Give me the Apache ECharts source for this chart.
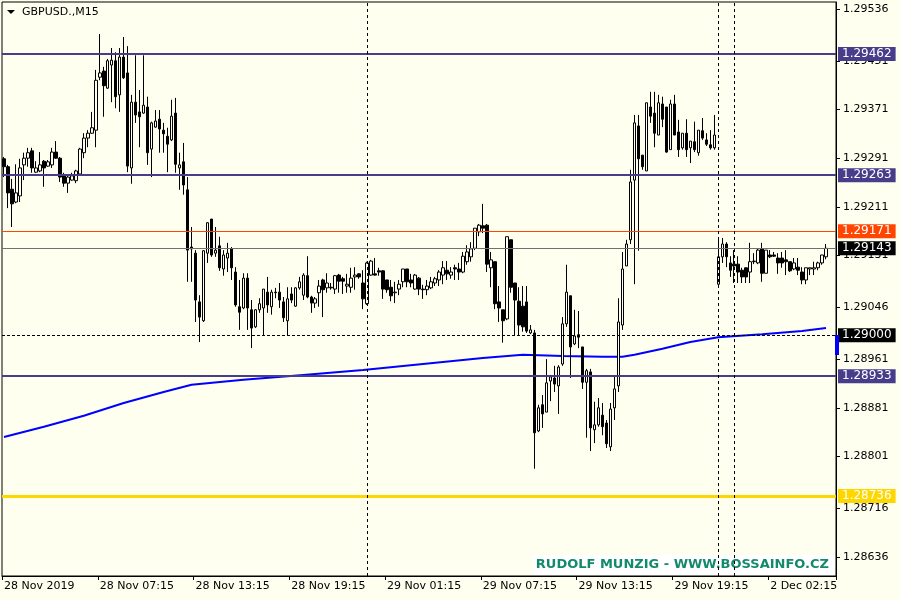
<!DOCTYPE html>
<html><head><meta charset="utf-8">
<script src="https://cdn.jsdelivr.net/npm/echarts@6/dist/echarts.min.js"></script>
<style>html,body{margin:0;padding:0;background:#FFFFF0;}#c{width:900px;height:600px;}</style>
</head><body><div id="c"></div>
<script>
const symbolTitle = 'GBPUSD.,M15';
const watermark = 'RUDOLF MUNZIG - WWW.BOSSAINFO.CZ';
const tickLabels = ['28 Nov 2019','28 Nov 07:15','28 Nov 13:15','28 Nov 19:15','29 Nov 01:15','29 Nov 07:15','29 Nov 13:15','29 Nov 19:15','2 Dec 02:15'];
const tickStep = 24;
const priceTicks = [1.29536,1.29451,1.29371,1.29291,1.29211,1.29131,1.29046,1.28961,1.28881,1.28801,1.28716,1.28636];
const priceMin = 1.286048, priceMax = 1.295475;
const barCount = 209;
// [open, close, low, high]
const ohlc = [
[1.29290,1.29277,1.29260,1.29293],[1.29277,1.29234,1.29209,1.29280],[1.29240,1.29216,1.29178,1.29257],[1.29219,1.29234,1.29217,1.29281],
[1.29229,1.29275,1.29219,1.29290],[1.29280,1.29291,1.29255,1.29300],[1.29291,1.29300,1.29277,1.29308],[1.29303,1.29275,1.29267,1.29308],
[1.29268,1.29275,1.29267,1.29286],[1.29270,1.29280,1.29268,1.29301],[1.29286,1.29275,1.29244,1.29288],[1.29278,1.29285,1.29277,1.29288],
[1.29280,1.29301,1.29275,1.29308],[1.29301,1.29291,1.29290,1.29319],[1.29291,1.29260,1.29252,1.29293],[1.29262,1.29250,1.29244,1.29267],
[1.29250,1.29260,1.29234,1.29265],[1.29255,1.29262,1.29254,1.29267],[1.29254,1.29270,1.29250,1.29272],[1.29265,1.29306,1.29263,1.29308],
[1.29300,1.29324,1.29291,1.29332],[1.29324,1.29332,1.29309,1.29337],[1.29332,1.29341,1.29331,1.29367],[1.29337,1.29419,1.29309,1.29436],
[1.29424,1.29431,1.29419,1.29495],[1.29434,1.29410,1.29359,1.29441],[1.29406,1.29451,1.29405,1.29454],[1.29444,1.29452,1.29383,1.29472],
[1.29451,1.29392,1.29373,1.29465],[1.29395,1.29457,1.29367,1.29472],[1.29457,1.29423,1.29421,1.29490],[1.29431,1.29278,1.29268,1.29475],
[1.29275,1.29383,1.29249,1.29395],[1.29383,1.29362,1.29349,1.29460],[1.29367,1.29359,1.29309,1.29403],[1.29365,1.29378,1.29364,1.29460],
[1.29375,1.29300,1.29280,1.29392],[1.29306,1.29349,1.29260,1.29351],[1.29342,1.29352,1.29341,1.29370],[1.29355,1.29339,1.29300,1.29370],
[1.29337,1.29331,1.29300,1.29349],[1.29327,1.29314,1.29268,1.29341],[1.29321,1.29360,1.29319,1.29387],[1.29365,1.29281,1.29267,1.29390],
[1.29275,1.29280,1.29239,1.29300],[1.29285,1.29247,1.29231,1.29316],[1.29239,1.29140,1.29088,1.29260],[1.29145,1.29142,1.29088,1.29178],
[1.29135,1.29058,1.29022,1.29140],[1.29055,1.29030,1.28989,1.29066],[1.29024,1.29139,1.29022,1.29140],[1.29135,1.29185,1.29119,1.29186],
[1.29191,1.29132,1.29129,1.29191],[1.29135,1.29140,1.29129,1.29178],[1.29147,1.29111,1.29106,1.29162],[1.29109,1.29132,1.29098,1.29140],
[1.29127,1.29135,1.29104,1.29152],[1.29142,1.29111,1.29091,1.29145],[1.29104,1.29050,1.29047,1.29112],[1.29047,1.29038,1.29009,1.29091],
[1.29045,1.29094,1.29043,1.29102],[1.29094,1.29045,1.29009,1.29102],[1.29042,1.29012,1.28979,1.29058],[1.29014,1.29042,1.29012,1.29043],
[1.29042,1.29052,1.29037,1.29061],[1.29045,1.29076,1.28999,1.29076],[1.29071,1.29050,1.29037,1.29096],[1.29047,1.29071,1.29034,1.29075],
[1.29071,1.29070,1.29061,1.29078],[1.29071,1.29058,1.29045,1.29086],[1.29055,1.29029,1.29022,1.29063],[1.29024,1.29060,1.28999,1.29079],
[1.29068,1.29058,1.29053,1.29079],[1.29048,1.29078,1.29047,1.29079],[1.29078,1.29088,1.29075,1.29096],[1.29066,1.29099,1.29058,1.29102],
[1.29098,1.29063,1.29061,1.29130],[1.29063,1.29053,1.29037,1.29065],[1.29053,1.29060,1.29045,1.29063],[1.29070,1.29081,1.29047,1.29091],
[1.29091,1.29075,1.29030,1.29093],[1.29078,1.29086,1.29070,1.29102],[1.29079,1.29078,1.29075,1.29086],[1.29076,1.29098,1.29068,1.29099],
[1.29099,1.29089,1.29070,1.29101],[1.29093,1.29089,1.29068,1.29096],[1.29081,1.29084,1.29070,1.29101],[1.29079,1.29094,1.29070,1.29111],
[1.29096,1.29099,1.29075,1.29112],[1.29101,1.29096,1.29093,1.29102],[1.29086,1.29060,1.29043,1.29107],[1.29052,1.29119,1.29050,1.29121],
[1.29099,1.29122,1.29098,1.29124],[1.29101,1.29099,1.29098,1.29127],[1.29106,1.29104,1.29098,1.29111],[1.29106,1.29076,1.29060,1.29107],
[1.29091,1.29075,1.29070,1.29091],[1.29079,1.29065,1.29056,1.29091],[1.29070,1.29071,1.29053,1.29088],[1.29076,1.29084,1.29066,1.29091],
[1.29088,1.29109,1.29079,1.29109],[1.29109,1.29088,1.29079,1.29109],[1.29091,1.29086,1.29079,1.29101],[1.29076,1.29099,1.29075,1.29101],
[1.29094,1.29076,1.29066,1.29096],[1.29076,1.29075,1.29060,1.29083],[1.29075,1.29081,1.29066,1.29091],[1.29078,1.29088,1.29076,1.29096],
[1.29086,1.29093,1.29081,1.29096],[1.29091,1.29104,1.29081,1.29107],[1.29099,1.29111,1.29084,1.29122],[1.29107,1.29101,1.29091,1.29122],
[1.29099,1.29104,1.29093,1.29112],[1.29111,1.29109,1.29091,1.29116],[1.29109,1.29104,1.29091,1.29119],[1.29104,1.29130,1.29102,1.29137],
[1.29121,1.29137,1.29116,1.29148],[1.29129,1.29142,1.29121,1.29153],[1.29143,1.29176,1.29140,1.29176],[1.29170,1.29181,1.29163,1.29183],
[1.29180,1.29176,1.29168,1.29216],[1.29181,1.29117,1.29104,1.29183],[1.29111,1.29124,1.29079,1.29137],[1.29121,1.29052,1.29043,1.29121],
[1.29055,1.29045,1.29022,1.29081],[1.29042,1.29024,1.28988,1.29042],[1.29027,1.29162,1.29025,1.29162],[1.29157,1.29079,1.29070,1.29157],
[1.29086,1.29058,1.28999,1.29086],[1.29056,1.29017,1.28999,1.29079],[1.29048,1.29014,1.29006,1.29081],[1.29055,1.29007,1.29004,1.29081],
[1.29004,1.29009,1.29002,1.29017],[1.29004,1.28840,1.28781,1.29009],[1.28843,1.28881,1.28841,1.28886],[1.28886,1.28871,1.28848,1.28902],
[1.28874,1.28922,1.28874,1.28961],[1.28925,1.28932,1.28892,1.28935],[1.28930,1.28920,1.28907,1.28950],[1.28917,1.28948,1.28871,1.28951],
[1.28953,1.29019,1.28950,1.29030],[1.29019,1.29071,1.29014,1.29116],[1.29065,1.28981,1.28930,1.29065],[1.28986,1.28999,1.28984,1.29042],
[1.29001,1.28997,1.28979,1.29040],[1.28981,1.28923,1.28912,1.28981],[1.28923,1.28942,1.28832,1.28945],[1.28940,1.28848,1.28810,1.28945],
[1.28845,1.28853,1.28823,1.28891],[1.28853,1.28881,1.28850,1.28897],[1.28869,1.28850,1.28836,1.28889],[1.28856,1.28822,1.28815,1.28861],
[1.28817,1.28879,1.28810,1.28889],[1.28881,1.28912,1.28861,1.28932],[1.28917,1.29022,1.28907,1.29061],[1.29017,1.29109,1.29009,1.29137],
[1.29114,1.29150,1.29114,1.29157],[1.29157,1.29252,1.29150,1.29272],[1.29255,1.29349,1.29084,1.29362],[1.29344,1.29290,1.29139,1.29362],
[1.29296,1.29277,1.29272,1.29296],[1.29270,1.29382,1.29270,1.29382],[1.29375,1.29360,1.29349,1.29400],[1.29365,1.29332,1.29309,1.29400],
[1.29329,1.29382,1.29329,1.29395],[1.29380,1.29355,1.29342,1.29392],[1.29375,1.29301,1.29300,1.29375],[1.29305,1.29380,1.29305,1.29387],
[1.29380,1.29329,1.29329,1.29395],[1.29334,1.29305,1.29293,1.29354],[1.29308,1.29332,1.29305,1.29332],[1.29332,1.29305,1.29293,1.29355],
[1.29308,1.29319,1.29283,1.29319],[1.29318,1.29305,1.29301,1.29351],[1.29300,1.29337,1.29295,1.29337],[1.29336,1.29324,1.29321,1.29357],
[1.29321,1.29314,1.29311,1.29332],[1.29313,1.29308,1.29305,1.29337],[1.29308,1.29329,1.29305,1.29362],
[1.29084,1.29129,1.29083,1.29160],[1.29129,1.29150,1.29119,1.29160],[1.29150,1.29129,1.29112,1.29153],[1.29119,1.29107,1.29096,1.29130],
[1.29117,1.29114,1.29086,1.29140],[1.29117,1.29104,1.29086,1.29130],[1.29107,1.29096,1.29086,1.29111],[1.29111,1.29096,1.29086,1.29111],
[1.29104,1.29121,1.29086,1.29152],[1.29121,1.29122,1.29117,1.29135],[1.29119,1.29140,1.29117,1.29142],[1.29142,1.29102,1.29088,1.29152],
[1.29102,1.29140,1.29102,1.29140],[1.29132,1.29129,1.29127,1.29140],[1.29132,1.29130,1.29129,1.29137],[1.29127,1.29119,1.29101,1.29135],
[1.29127,1.29119,1.29111,1.29137],[1.29124,1.29121,1.29099,1.29140],[1.29121,1.29106,1.29104,1.29121],[1.29109,1.29119,1.29107,1.29127],
[1.29112,1.29107,1.29099,1.29127],[1.29104,1.29091,1.29084,1.29112],[1.29091,1.29111,1.29084,1.29111],[1.29109,1.29111,1.29099,1.29111],
[1.29109,1.29111,1.29099,1.29121],[1.29111,1.29119,1.29107,1.29121],[1.29119,1.29132,1.29116,1.29132],[1.29129,1.29143,1.29125,1.29150]
];
const maIndex  = [0,10,20,30,40,47,60,75,90,105,120,130,140,150,155,158,165,172,179,190,200,206];
const maValues = [1.28833,1.28850,1.28868,1.28889,1.28907,1.28919,1.28927,1.28935,1.28943,1.28953,1.28963,1.28968,1.28966,1.28965,1.28965,1.28968,1.28978,1.28989,1.28997,1.29002,1.29007,1.29012];
const slateLevels = [1.29462, 1.29263, 1.28933];
const orangeLevel = 1.29171;
const bidLevel = 1.29143;
const roundLevel = 1.29000;
const goldLevel = 1.28736;
const separatorBars = [91, 179, 183];

const FONT = 'DejaVu Sans';
const BG = '#FFFFF0';
const categories = Array.from({length: barCount}, (_, i) => String(i));
const maData = categories.map(() => null);
maIndex.forEach((idx, k) => { maData[idx] = maValues[k]; });

const lbl = (bg) => ({show:true, position:'end', distance:2, color:'#fff', backgroundColor:bg,
  fontFamily:FONT, fontSize:12, padding:[1,4,1,4], formatter:(p)=>Number(p.value).toFixed(5)});
const markData = [];
slateLevels.forEach(v => markData.push({yAxis:v, lineStyle:{color:'#483D8B', width:2, type:'solid'}, label:lbl('#483D8B')}));
markData.push({yAxis:orangeLevel, lineStyle:{color:'#FF4500', width:1, type:'solid'}, label:lbl('#FF4500')});
markData.push({yAxis:bidLevel, lineStyle:{color:'#707070', width:1, type:'solid'}, label:lbl('#000000')});
markData.push({yAxis:roundLevel, lineStyle:{color:'#000', width:1, type:[3,2]}, label:lbl('#000000')});
markData.push({yAxis:goldLevel, lineStyle:{color:'#FFD700', width:3, type:'solid'}, label:lbl('#FFD700')});
separatorBars.forEach(b => markData.push({xAxis:categories[b], lineStyle:{color:'#000', width:1, type:[3,3]}, label:{show:false}}));

const chart = echarts.init(document.getElementById('c'), null, {renderer:'canvas'});
chart.setOption({
  animation:false,
  backgroundColor:BG,
  textStyle:{fontFamily:FONT},
  grid:{left:2, right:64, top:2, bottom:24, show:true, borderColor:'#000', borderWidth:1, containLabel:false},
  xAxis:{type:'category', data:categories, boundaryGap:true,
    axisLine:{lineStyle:{color:'#000'}},
    axisTick:{show:true, length:4, interval:(i)=>i%tickStep===0, lineStyle:{color:'#000'}},
    axisLabel:{interval:(i)=>i%tickStep===0, formatter:(v,i)=>tickLabels[i/tickStep]||'', align:'left',
      color:'#000', fontFamily:FONT, fontSize:11, margin:5},
    splitLine:{show:false}},
  yAxis:{type:'value', position:'right', min:priceMin, max:priceMax, scale:true,
    axisLine:{show:true, lineStyle:{color:'#000'}},
    axisTick:{show:true, length:4, customValues:priceTicks, lineStyle:{color:'#000'}},
    axisLabel:{customValues:priceTicks, formatter:(v)=>v.toFixed(5), color:'#000', fontFamily:FONT, fontSize:11, margin:7},
    splitLine:{show:false}},
  graphic:[
    {type:'polygon', shape:{points:[[7,10],[15,10],[11,14]]}, style:{fill:'#000'}},
    {type:'text', x:22, y:12, style:{text:symbolTitle, fill:'#000', font:'11px "DejaVu Sans"', textVerticalAlign:'middle'}},
    {type:'rect', shape:{x:533, y:555, width:302, height:20}, style:{fill:'#FFFFFF'}},
    {type:'text', x:829, y:565, style:{text:watermark, fill:'#138A6B', font:'bold 13px "DejaVu Sans"', textAlign:'right', textVerticalAlign:'middle'}},
    {type:'rect', shape:{x:835, y:335, width:4, height:20}, style:{fill:'#0000FF'}, z:10}
  ],
  series:[
    {type:'line', data:maData, connectNulls:true, showSymbol:false, symbol:'none', z:1,
     lineStyle:{color:'#0000FF', width:2}, silent:true},
    {type:'candlestick', data:ohlc, barWidth:3, z:2,
     itemStyle:{color:BG, color0:'#000', borderColor:'#000', borderColor0:'#000', borderWidth:1},
     markLine:{symbol:['none','none'], precision:5, silent:true, animation:false, data:markData, emphasis:{disabled:true}}}
  ]
});
</script></body></html>
